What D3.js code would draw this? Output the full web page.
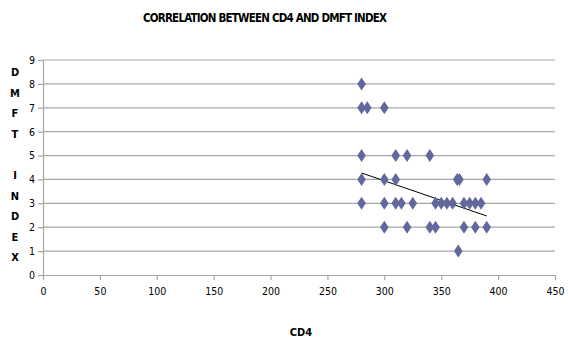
<!DOCTYPE html>
<html>
<head>
<meta charset="utf-8">
<script src="https://cdn.jsdelivr.net/npm/d3@7"></script>
<style>
  body { margin: 0; background: #fff; }
  text { font-family: "Liberation Sans Narrow", "DejaVu Sans Condensed", "Arial Narrow", sans-serif; font-stretch: condensed; }
</style>
</head>
<body>
<svg width="568" height="338"></svg>
<script>
// CD4 count vs DMFT index
const cd4 = [280, 280, 285, 300, 280, 310, 320, 340, 280, 300, 310, 364, 366, 390,
  280, 300, 310, 315, 325, 345, 350, 355, 360, 370, 375, 380, 385,
  300, 320, 340, 345, 370, 380, 390, 365];
const dmft = [8, 7, 7, 7, 5, 5, 5, 5, 4, 4, 4, 4, 4, 4,
  3, 3, 3, 3, 3, 3, 3, 3, 3, 3, 3, 3, 3,
  2, 2, 2, 2, 2, 2, 2, 1];
// linear trendline end points as drawn
const trendX = [280, 390];
const trendY = [4.27, 2.47];
const xTicks = [0, 50, 100, 150, 200, 250, 300, 350, 400, 450];
const yTicks = [0, 1, 2, 3, 4, 5, 6, 7, 8, 9];
const yTitle = ["D", "M", "F", "T", "", "I", "N", "D", "E", "X"];

const svg = d3.select("svg");
const plotL = 43, plotR = 555, plotT = 60, plotB = 275;
const grey = "#a6a6a6";

const x = d3.scaleLinear().domain([0, 450]).range([plotL, plotR]);
const y = d3.scaleLinear().domain([0, 9]).range([plotB, plotT]);

// gridlines
svg.append("g")
  .selectAll("line")
  .data(yTicks.filter((d) => d > 0))
  .enter()
  .append("line")
  .attr("x1", plotL)
  .attr("x2", plotR)
  .attr("y1", (d) => y(d))
  .attr("y2", (d) => y(d))
  .attr("stroke", grey)
  .attr("stroke-width", 1.2);

const xAxis = svg
  .append("g")
  .attr("transform", "translate(0," + plotB + ")")
  .call(d3.axisBottom(x).tickValues(xTicks).tickSize(5).tickPadding(8).tickSizeOuter(0));
const yAxis = svg
  .append("g")
  .attr("transform", "translate(" + plotL + ",0)")
  .call(d3.axisLeft(y).tickValues(yTicks).tickSize(5).tickPadding(3).tickSizeOuter(0));

[xAxis, yAxis].forEach(function (a) {
  a.select(".domain").attr("stroke", grey).attr("stroke-width", 1.2);
  a.selectAll(".tick line").attr("stroke", grey).attr("stroke-width", 1.2);
  a.selectAll(".tick text")
    .attr("fill", "#000")
    .style("font-size", "10.5px")
    .style("font-family", '"Liberation Sans Narrow", "DejaVu Sans Condensed", sans-serif');
});

// trendline
svg.append("line")
  .attr("x1", x(trendX[0]))
  .attr("y1", y(trendY[0]))
  .attr("x2", x(trendX[1]))
  .attr("y2", y(trendY[1]))
  .attr("stroke", "#000")
  .attr("stroke-width", 1);

// diamond markers
svg.append("g")
  .selectAll("path")
  .data(cd4.map((d, i) => [d, dmft[i]]))
  .enter()
  .append("path")
  .attr("d", "M0,-6.5L4.3,0L0,6.5L-4.3,0Z")
  .attr("transform", (d) => "translate(" + x(d[0]) + "," + y(d[1]) + ")")
  .attr("fill", "#62679c");

// title
svg.append("text")
  .attr("x", 265)
  .attr("y", 22)
  .attr("text-anchor", "middle")
  .attr("font-weight", "bold")
  .attr("font-size", 11.5)
  .attr("textLength", 244)
  .attr("lengthAdjust", "spacing")
  .text("CORRELATION BETWEEN CD4 AND DMFT INDEX");

// y axis title, stacked letters
svg.append("g")
  .selectAll("text")
  .data(yTitle)
  .enter()
  .append("text")
  .attr("x", 15)
  .attr("y", (d, i) => 76 + i * 20.6)
  .attr("text-anchor", "middle")
  .attr("font-weight", "bold")
  .attr("font-size", 11)
  .text((d) => d);

// x axis title
svg.append("text")
  .attr("x", 301)
  .attr("y", 336)
  .attr("text-anchor", "middle")
  .attr("font-weight", "bold")
  .attr("font-size", 11)
  .text("CD4");
</script>
</body>
</html>
